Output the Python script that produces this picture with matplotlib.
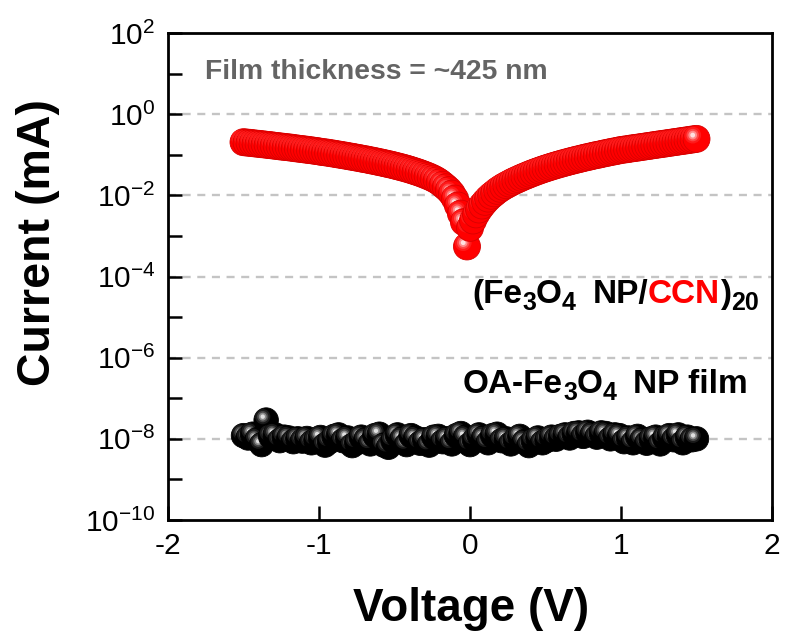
import numpy as np
import matplotlib
matplotlib.use("Agg")
import matplotlib.pyplot as plt
from matplotlib.colors import to_rgb
from matplotlib.transforms import IdentityTransform
from matplotlib.ticker import FixedLocator, FixedFormatter, NullLocator

plt.rcParams["font.family"] = ["Liberation Sans", "DejaVu Sans"]
plt.rcParams["mathtext.fontset"] = "custom"
plt.rcParams["mathtext.rm"] = "Liberation Sans"
plt.rcParams["mathtext.bf"] = "Liberation Sans:bold"
plt.rcParams["mathtext.it"] = "Liberation Sans:italic"
plt.rcParams["axes.unicode_minus"] = False

# ---------------- data ----------------
# (Fe3O4 NP/CCN)20 multilayer: voltage sweep -1.50 V ... +1.50 V, 20 mV steps
ccn_v_start, ccn_v_stop, ccn_v_step = -1.50, 1.50, 0.02
ccn_current = [  # mA
    0.204, 0.200, 0.197, 0.193, 0.189, 0.186, 0.182, 0.179, 0.175, 0.172,
    0.168, 0.165, 0.161, 0.158, 0.155, 0.152, 0.149, 0.145, 0.142, 0.139,
    0.136, 0.133, 0.130, 0.127, 0.124, 0.121, 0.117, 0.115, 0.112, 0.109,
    0.106, 0.103, 0.100, 0.0973, 0.0944, 0.0916, 0.0889, 0.0863, 0.0836, 0.0809,
    0.0783, 0.0759, 0.0733, 0.0708, 0.0684, 0.0659, 0.0635, 0.0612, 0.0589, 0.0566,
    0.0543, 0.0520, 0.0498, 0.0475, 0.0453, 0.0431, 0.0408, 0.0386, 0.0365, 0.0343,
    0.0321, 0.0300, 0.0279, 0.0257, 0.0234, 0.0209, 0.0182, 0.0158, 0.0135, 0.0110,
    0.00832, 0.00562, 0.00355, 0.00219, 0.000550,
    0.00158, 0.00240, 0.00339, 0.00447, 0.00562, 0.00692, 0.00832, 0.00977, 0.0112, 0.0129,
    0.0145, 0.0162, 0.0178, 0.0195, 0.0214, 0.0232, 0.0251, 0.0271, 0.0292, 0.0313,
    0.0336, 0.0359, 0.0383, 0.0407, 0.0433, 0.0458, 0.0484, 0.0511, 0.0538, 0.0566,
    0.0594, 0.0624, 0.0653, 0.0684, 0.0714, 0.0746, 0.0778, 0.0811, 0.0845, 0.0879,
    0.0914, 0.0951, 0.0986, 0.102, 0.106, 0.110, 0.114, 0.118, 0.122, 0.126,
    0.131, 0.134, 0.137, 0.141, 0.145, 0.148, 0.152, 0.156, 0.160, 0.164,
    0.168, 0.173, 0.177, 0.182, 0.186, 0.191, 0.196, 0.201, 0.206, 0.211,
    0.217, 0.222, 0.228, 0.234, 0.240, 0.246,
]

# OA-Fe3O4 NP film: voltage sweep -1.50 V ... +1.50 V, 30 mV steps
oa_v_start, oa_v_stop, oa_v_step = -1.50, 1.50, 0.03
oa_current = [  # mA
    1.20e-8, 1.05e-8, 1.30e-8, 0.95e-8, 0.72e-8, 2.90e-8, 1.15e-8, 1.25e-8, 0.90e-8, 1.10e-8,
    1.05e-8, 0.85e-8, 1.00e-8, 0.88e-8, 1.02e-8, 0.80e-8, 0.92e-8, 1.08e-8, 0.70e-8, 0.85e-8,
    1.15e-8, 1.25e-8, 0.90e-8, 1.05e-8, 0.68e-8, 0.80e-8, 1.10e-8, 0.95e-8, 0.75e-8, 1.20e-8,
    1.30e-8, 0.70e-8, 0.62e-8, 0.90e-8, 1.25e-8, 1.00e-8, 0.72e-8, 1.20e-8, 1.05e-8, 0.78e-8,
    0.95e-8, 0.70e-8, 1.10e-8, 1.15e-8, 0.85e-8, 1.00e-8, 0.75e-8, 1.20e-8, 1.35e-8, 1.10e-8,
    0.72e-8, 0.95e-8, 1.25e-8, 1.05e-8, 0.80e-8, 1.20e-8, 1.30e-8, 0.90e-8, 1.00e-8, 0.75e-8,
    0.95e-8, 1.15e-8, 0.85e-8, 0.68e-8, 0.90e-8, 1.05e-8, 0.80e-8, 0.92e-8, 1.10e-8, 0.98e-8,
    1.15e-8, 1.25e-8, 1.05e-8, 1.35e-8, 1.40e-8, 1.15e-8, 1.45e-8, 1.30e-8, 1.10e-8, 1.40e-8,
    1.35e-8, 1.00e-8, 1.25e-8, 1.20e-8, 0.85e-8, 1.05e-8, 0.80e-8, 1.15e-8, 0.95e-8, 0.78e-8,
    1.00e-8, 1.10e-8, 0.75e-8, 1.05e-8, 1.20e-8, 0.95e-8, 1.25e-8, 0.80e-8, 1.10e-8, 0.95e-8,
    1.00e-8,
]

x_ticks = [-2, -1, 0, 1, 2]
x_tick_labels = ["-2", "-1", "0", "1", "2"]
y_tick_exponents = list(range(-10, 3))
grid_exponents = [0, -2, -4, -6, -8]

ccn_v = np.round(np.arange(ccn_v_start, ccn_v_stop + ccn_v_step / 2, ccn_v_step), 2)
oa_v = np.round(np.arange(oa_v_start, oa_v_stop + oa_v_step / 2, oa_v_step), 2)

# ---------------- figure ----------------
W, H = 788, 637
fig = plt.figure(figsize=(W / 100, H / 100), dpi=100)
ax = fig.add_axes([168 / W, (H - 520) / H, 604 / W, 487 / H])

ax.set_xlim(-2, 2)
ax.set_yscale("log")
ax.set_ylim(1e-10, 1e2)

for side in ["left", "right", "top", "bottom"]:
    ax.spines[side].set_linewidth(2.0)

ax.set_xticks(x_ticks)
ax.set_xticklabels(x_tick_labels)
ax.xaxis.set_minor_locator(NullLocator())
ax.yaxis.set_major_locator(FixedLocator([10.0 ** e for e in y_tick_exponents]))
ax.yaxis.set_major_formatter(FixedFormatter(
    [r"$10^{%d}$" % e if e % 2 == 0 else "" for e in y_tick_exponents]))
ax.yaxis.set_minor_locator(NullLocator())
ax.tick_params(axis="both", which="major", direction="in", length=10, width=1.8,
               labelsize=21.5, top=False, right=False)
ax.tick_params(axis="x", pad=9)
ax.tick_params(axis="y", pad=9)

for e in grid_exponents:
    ax.axhline(10.0 ** e, color="#c4c4c4", lw=1.7, ls=(0, (3.4, 2.8)), zorder=0.5)


def glossy(ax, x, y, diam_px, face, edge, light, zorder):
    """Shaded spherical markers drawn point by point (base disc + highlight)."""
    x = np.asarray(x, float)
    y = np.asarray(y, float)
    disp = ax.transData.transform(np.column_stack([x, y]))
    R = diam_px / 2.0
    hl = ax.transData.inverted().transform(disp + np.array([-0.28 * R, 0.28 * R]))
    face_rgb = np.array(to_rgb(face))
    light_rgb = np.array(to_rgb(light))
    edge_rgb = np.array(to_rgb(edge))
    d_pt = diam_px * 72.0 / 100.0
    layers = [(0.62, 0.10), (0.46, 0.28), (0.32, 0.55), (0.18, 0.88)]
    xs, ys, ss, fcs, ecs, lws = [], [], [], [], [], []
    for i in range(len(x)):
        xs.append(x[i]); ys.append(y[i]); ss.append(d_pt ** 2)
        fcs.append(face_rgb); ecs.append(edge_rgb); lws.append(0.6)
        for f, t in layers:
            c = face_rgb * (1 - t) + light_rgb * t
            xs.append(hl[i, 0]); ys.append(hl[i, 1]); ss.append((d_pt * f) ** 2)
            fcs.append(c); ecs.append(c); lws.append(0.0)
    ax.scatter(xs, ys, s=ss, c=np.array(fcs), edgecolors=np.array(ecs),
               linewidths=lws, marker="o", zorder=zorder)


glossy(ax, oa_v, oa_current, 24.5, "#000000", "#000000", "#ffffff", 3)
glossy(ax, ccn_v, ccn_current, 27, "#ff0000", "#d80000", "#ffffff", 4)

# ---------------- text ----------------
renderer = fig.canvas.get_renderer()


def rich_text(x_px, base_px, segments, size):
    """Bold text built from pieces: (text, colour, kind) with kind in
    'n' normal, 's' subscript, 'g' horizontal gap in em."""
    x = x_px
    em = size * 100.0 / 72.0
    for s, color, kind in segments:
        if kind == "g":
            x += s * em
            continue
        fs = size * 0.75 if kind == "s" else size
        dy = -0.20 * em if kind == "s" else 0.0
        t = fig.text(x, H - base_px + dy, s, transform=IdentityTransform(),
                     fontsize=fs, fontweight="bold", color=color,
                     ha="left", va="baseline")
        x = t.get_window_extent(renderer).x1


fig.text(205, H - 79, "Film thickness = ~425 nm", transform=IdentityTransform(),
         fontsize=20.3, fontweight="bold", color="#646464", ha="left", va="baseline")

rich_text(472, 303, [("(Fe", "black", "n"), ("3", "black", "s"), ("O", "black", "n"),
                     ("4", "black", "s"), (0.5, None, "g"), ("NP/", "black", "n"),
                     ("CCN", "#ff0000", "n"), (")", "black", "n"), ("20", "black", "s")], 24)

rich_text(463, 393, [("OA-Fe", "black", "n"), ("3", "black", "s"), ("O", "black", "n"),
                     ("4", "black", "s"), (0.5, None, "g"), ("NP film", "black", "n")], 24)

fig.text(38, H - 242, "Current (mA)", transform=IdentityTransform(), fontsize=33.5,
         fontweight="bold", rotation=90, ha="center", va="center")
fig.text(471, H - 621, "Voltage (V)", transform=IdentityTransform(), fontsize=33,
         fontweight="bold", ha="center", va="baseline")

fig.savefig("out.png", dpi=100)
